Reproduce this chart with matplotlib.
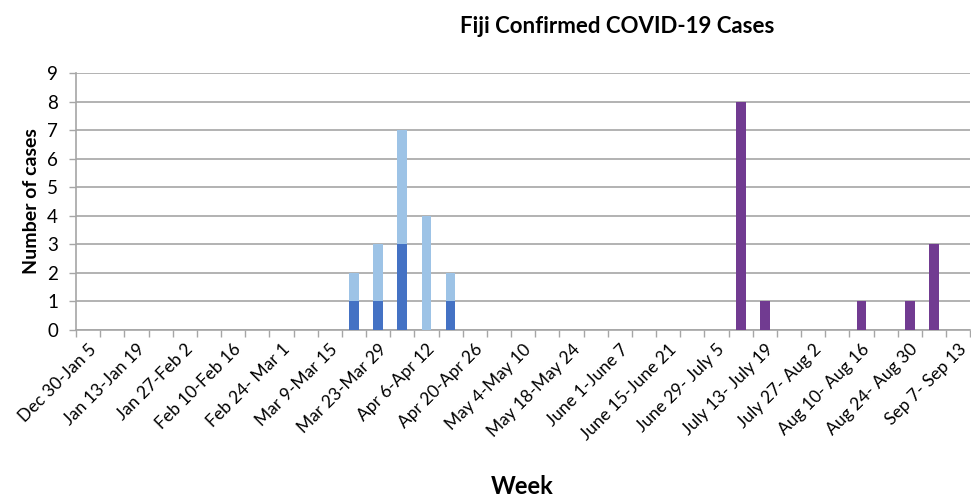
import numpy as np
import matplotlib
matplotlib.use("Agg")
import matplotlib.pyplot as plt

plt.rcParams["font.family"] = ["Lato", "DejaVu Sans"]

weeks = ["Dec 30-Jan 5", "Jan 6-Jan 12", "Jan 13-Jan 19", "Jan 20-Jan 26",
         "Jan 27-Feb 2", "Feb 3-Feb 9", "Feb 10-Feb 16", "Feb 17-Feb 23",
         "Feb 24- Mar 1", "Mar 2-Mar 8", "Mar 9-Mar 15", "Mar 16-Mar 22",
         "Mar 23-Mar 29", "Mar 30-Apr 5", "Apr 6-Apr 12", "Apr 13-Apr 19",
         "Apr 20-Apr 26", "Apr 27-May 3", "May 4-May 10", "May 11-May 17",
         "May 18-May 24", "May 25-May 31", "June 1-June 7", "June 8-June 14",
         "June 15-June 21", "June 22-June 28", "June 29- July 5", "July 6- July 12",
         "July 13- July 19", "July 20- July 26", "July 27- Aug 2", "Aug 3- Aug 9",
         "Aug 10- Aug 16", "Aug 17- Aug 23", "Aug 24- Aug 30", "Aug 31- Sep 6",
         "Sep 7- Sep 13"]

imported = [0]*11 + [1, 1, 3, 0, 1] + [0]*21
local = [0]*11 + [1, 2, 4, 4, 1] + [0]*21
quarantine = [0]*27 + [8, 1, 0, 0, 0, 1, 0, 1, 3, 0]

x = np.arange(len(weeks))
w = 0.4

fig = plt.figure(figsize=(9.71, 4.98), dpi=100)
ax = fig.add_axes([0.0783, 0.3373, 0.921, 0.5161])

ax.bar(x, imported, w, color="#4472C4", zorder=3)
ax.bar(x, local, w, bottom=imported, color="#9DC3E6", zorder=3)
ax.bar(x, quarantine, w, color="#713B91", zorder=3)

ax.set_xlim(-0.5, len(weeks) - 0.5)
ax.set_ylim(0, 9)
ax.set_yticks(range(10))
ax.yaxis.grid(True, color="#A6A6A6", linewidth=1.2, zorder=0)

ax.set_xticks(x[::2])
ax.set_xticklabels(weeks[::2], rotation=45, ha="right", rotation_mode="anchor")
ax.set_xticks(np.arange(-0.5, len(weeks), 1), minor=True)
ax.tick_params(axis="x", which="major", length=0, labelsize=12.5, pad=8)
ax.tick_params(axis="x", which="minor", length=5, color="#A6A6A6", width=1)
ax.tick_params(axis="y", length=5, color="#A6A6A6", width=1, labelsize=13.5, pad=8)

for s in ["top", "right"]:
    ax.spines[s].set_visible(False)
for s in ["left", "bottom"]:
    ax.spines[s].set_color("#A6A6A6")
    ax.spines[s].set_linewidth(1.2)

ax.set_ylabel("Number of cases", fontsize=14, fontweight="bold", labelpad=5)
fig.text(0.538, 0.008, "Week", fontsize=17, fontweight="bold", ha="center",
         va="baseline")
fig.text(0.636, 0.934, "Fiji Confirmed COVID-19 Cases", fontsize=16,
         fontweight="bold", ha="center", va="baseline")

fig.savefig("out.png", dpi=100)
